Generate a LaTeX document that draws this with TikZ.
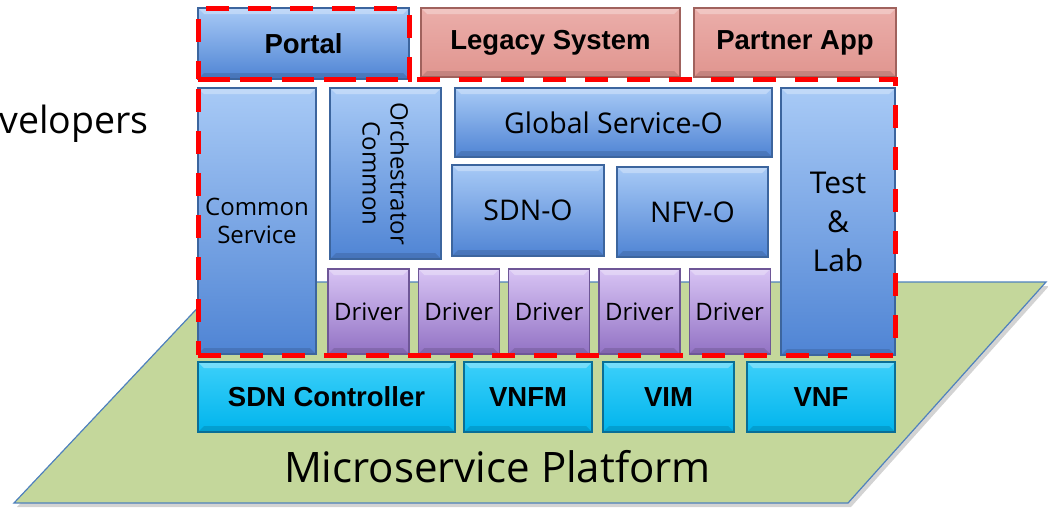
\documentclass[tikz,border=0pt]{standalone}
\usepackage{fontspec}
\setmainfont{Open Sans}
\newfontfamily\arialfont{Liberation Sans}
\usetikzlibrary{fit,shadows}
\definecolor{bluetop}{HTML}{A8CAF6}
\definecolor{bluebot}{HTML}{4F84D4}
\definecolor{blueedge}{HTML}{3C659E}
\definecolor{pinktop}{HTML}{EBAEAA}
\definecolor{pinkbot}{HTML}{E0958F}
\definecolor{pinkedge}{HTML}{A0625D}
\definecolor{violtop}{HTML}{D8C4F4}
\definecolor{violbot}{HTML}{9272C4}
\definecolor{violedge}{HTML}{6E5697}
\definecolor{cyantop}{HTML}{3CD0FA}
\definecolor{cyanbot}{HTML}{00B4EC}
\definecolor{cyanedge}{HTML}{0A6E96}
\definecolor{platgreen}{HTML}{C4D79B}
\definecolor{platedge}{HTML}{4F81BD}
\definecolor{grpred}{HTML}{FF0000}
\begin{document}
\begin{tikzpicture}
[
    x=1pt, y=-1pt,
    bevel/.style={path picture={
        \fill[white, opacity=.3] (path picture bounding box.north west)
            -- (path picture bounding box.north east)
            -- ([xshift=-6pt,yshift=-6pt]path picture bounding box.north east)
            -- ([xshift=6pt,yshift=-6pt]path picture bounding box.north west) -- cycle;
        \fill[black, opacity=.12] (path picture bounding box.south west)
            -- (path picture bounding box.south east)
            -- ([xshift=-6pt,yshift=6pt]path picture bounding box.south east)
            -- ([xshift=6pt,yshift=6pt]path picture bounding box.south west) -- cycle;
    }},
    tile/.style={inner sep=0pt, outer sep=0pt, line width=1.2pt, align=center, bevel},
    bluebox/.style={tile, draw=blueedge, top color=bluetop, bottom color=bluebot},
    pinkbox/.style={tile, draw=pinkedge, top color=pinktop, bottom color=pinkbot},
    drvbox/.style={tile, draw=violedge, top color=violtop, bottom color=violbot,
        minimum width=81pt, minimum height=85pt, font=\fontsize{24}{28}\selectfont},
    cyanbox/.style={tile, draw=cyanedge, top color=cyantop, bottom color=cyanbot,
        minimum height=70pt},
    boldtxt/.style={font=\arialfont\bfseries\fontsize{27.5}{31}\selectfont},
    midtxt/.style={font=\fontsize{28.5}{34}\selectfont},
    smalltxt/.style={font=\fontsize{24}{28}\selectfont},
    grpline/.style={draw=grpred, line width=5pt, dash pattern=on 23pt off 19pt,
        inner sep=0pt, outer sep=0pt},
]
\useasboundingbox (0,0) rectangle (1048,509);

\draw[fill=platgreen, draw=platedge, line width=1.2pt,
    drop shadow={shadow xshift=3pt, shadow yshift=-4pt, opacity=.35}]
    (222,282) -- (1046,282) -- (848,503) -- (14,503) -- cycle;
\node[anchor=base, inner sep=0pt, font=\fontsize{42}{48}\selectfont] (mslabel)
    at (497.5,482) {Microservice Platform};

\node[anchor=base east, inner sep=0pt, font=\fontsize{37.5}{44}\selectfont] (devlabel)
    at (149,133) {velopers};

\node[bluebox, boldtxt, minimum width=211pt, minimum height=71pt] (portal) at (303.5,43.5) {Portal};
\node[pinkbox, boldtxt, minimum width=259pt, minimum height=69pt] (legacy) at (550.5,42.5) {Legacy System};
\node[pinkbox, boldtxt, minimum width=202pt, minimum height=69pt] (partner) at (795,42.5) {Partner App};

\node[bluebox, smalltxt, minimum width=118pt, minimum height=266pt] (comsvc) at (257,221) {Common\\Service};
\node[bluebox, minimum width=111pt, minimum height=171pt] (orch) at (385.5,173.5) {};
\node[smalltxt, rotate=-90, align=center, inner sep=0pt] (orchtxt) at (orch.center) {Orchestrator\\Common};
\node[bluebox, midtxt, minimum width=317pt, minimum height=69pt] (globso) at (613.5,122.5) {Global Service-O};
\node[bluebox, midtxt, minimum width=152pt, minimum height=91pt] (sdno) at (528,210.5) {SDN-O};
\node[bluebox, midtxt, minimum width=151pt, minimum height=90pt] (nfvo) at (692.5,212) {NFV-O};
\node[bluebox, font=\fontsize{30}{39}\selectfont, minimum width=114pt, minimum height=267pt] (testlab) at (838,221.5) {Test\\\&\\Lab};

\foreach \i in {0,...,4}
    \node[drvbox] (drv\i) at ({368.5+90.3*\i},311.5) {Driver};

\node[cyanbox, boldtxt, minimum width=257pt] (sdnctl) at (326.5,397) {SDN Controller};
\node[cyanbox, boldtxt, minimum width=128pt] (vnfm) at (528,397) {VNFM};
\node[cyanbox, boldtxt, minimum width=131pt] (vim) at (668.5,397) {VIM};
\node[cyanbox, boldtxt, minimum width=148pt] (vnf) at (821,397) {VNF};

\node[grpline, fit=(portal)] (portgrp) {};
\node[grpline, fit=(portal.south west)(testlab.south east)] (maingrp) {};
\end{tikzpicture}
\end{document}
